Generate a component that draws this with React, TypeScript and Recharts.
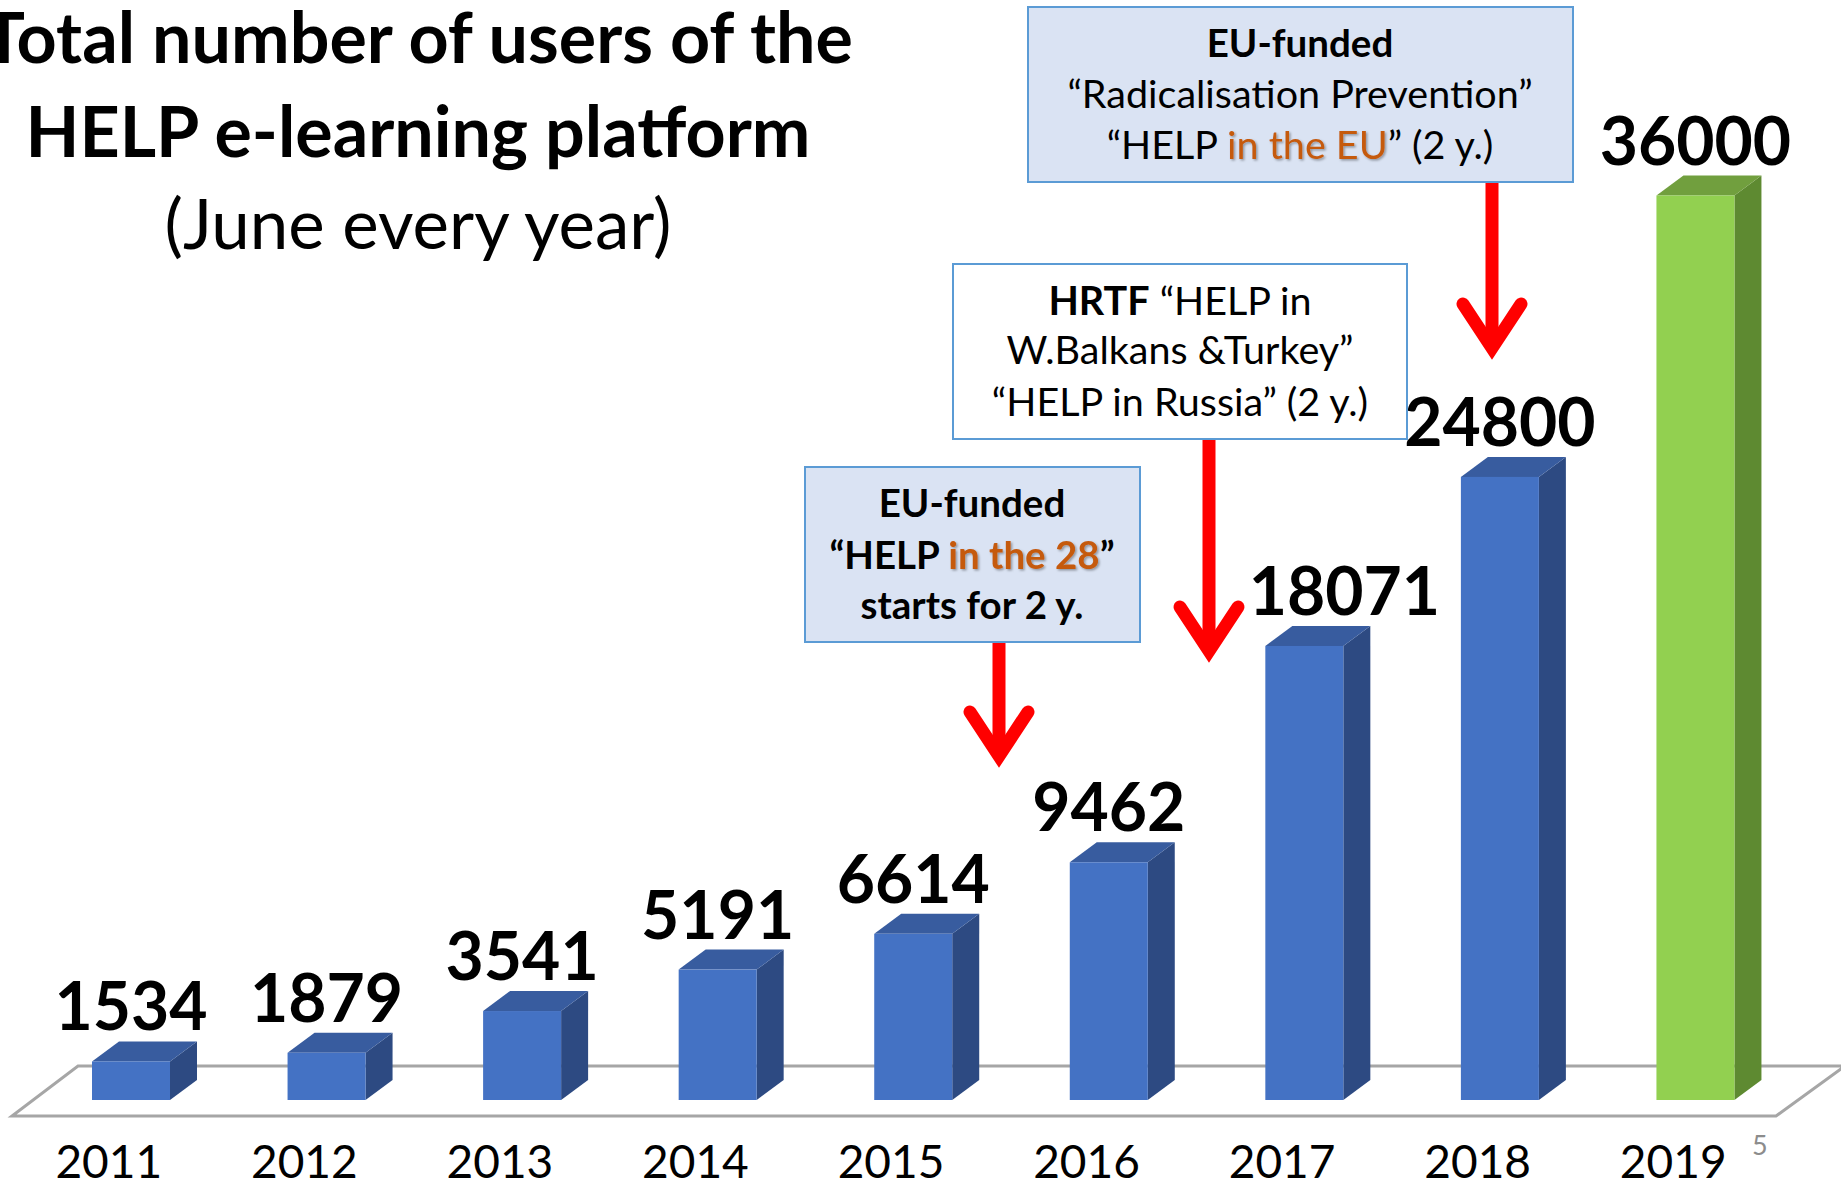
import React from 'react';
import { BarChart, Bar, XAxis, YAxis, LabelList } from 'recharts';

// ---- data ----
const years = ['2011', '2012', '2013', '2014', '2015', '2016', '2017', '2018', '2019'];
const users = [1534, 1879, 3541, 5191, 6614, 9462, 18071, 24800, 36000];
const highlightYear = '2019';
const titleLines = ['Total number of users of the', 'HELP e-learning platform', '(June every year)'];

const data = years.map((year, i) => ({ year, users: users[i] }));

// ---- styles ----
const W = 1841;
const H = 1189;
const FONT = "Lato, 'Open Sans', 'Noto Sans', sans-serif";
const BLUE = { front: '#4472C4', top: '#385C9F', side: '#2D4A82' };
const GREEN = { front: '#92D050', top: '#719F3E', side: '#5E8A31' };
const DX = 27;
const DY = 20;
const ORANGE = '#C55A11';
const BOX_FILL = '#DAE3F3';
const BOX_STROKE = '#5B9BD5';
const RED = '#FF0000';
// label nudged sideways in the original slide so the arrow does not cover it
const LABEL_SHIFT: Record<number, number> = { 6: 40 };

const Bar3D = (props: any) => {
  const { x, y, width, height, payload } = props;
  if (height == null || width == null) return null;
  const pal = payload && payload.year === highlightYear ? GREEN : BLUE;
  const top = `${x},${y} ${x + DX},${y - DY} ${x + width + DX},${y - DY} ${x + width},${y}`;
  const side = `${x + width},${y} ${x + width + DX},${y - DY} ${x + width + DX},${y + height - DY} ${x + width},${y + height}`;
  return (
    <g>
      <polygon points={side} fill={pal.side} />
      <polygon points={top} fill={pal.top} />
      <rect x={x} y={y} width={width} height={height} fill={pal.front} />
    </g>
  );
};

const ValueLabel = (p: any) => {
  const { x, y, width, value, index } = p;
  const shift = LABEL_SHIFT[index] || 0;
  return (
    <text
      x={x + width / 2 + shift}
      y={y - 31}
      textAnchor="middle"
      fontFamily={FONT}
      fontWeight={700}
      fontSize={66}
      fill="#000"
    >
      {value}
    </text>
  );
};

const YearTick = (p: any) => {
  const { x, y, payload } = p;
  return (
    <text x={x - 22} y={y + 70} textAnchor="middle" fontFamily={FONT} fontSize={46} fill="#000">
      {payload.value}
    </text>
  );
};

const Arrow = ({ x, y1, tip }: { x: number; y1: number; tip: number }) => (
  <g stroke={RED} strokeWidth={13} fill="none">
    <line x1={x} y1={y1} x2={x} y2={tip - 8} strokeLinecap="butt" />
    <polyline
      points={`${x - 29},${tip - 50} ${x},${tip - 6} ${x + 29},${tip - 50}`}
      strokeLinecap="round"
      strokeLinejoin="miter"
      strokeMiterlimit={10}
    />
  </g>
);

export default function App() {
  return (
    <div style={{ position: 'absolute', left: 0, top: 0, width: W, height: H, background: '#fff', overflow: 'hidden' }}>
      {/* floor */}
      <svg width={W} height={H} style={{ position: 'absolute', left: 0, top: 0 }}>
        <polygon
          points="78,1066 1845,1066 1776,1116 12,1116"
          fill="#fff"
          stroke="#A6A6A6"
          strokeWidth={3}
        />
      </svg>

      <div style={{ position: 'absolute', left: 0, top: 0 }}>
        <BarChart width={W} height={H} data={data} margin={{ top: 95, right: 48, bottom: 0, left: 33 }}>
          <XAxis
            dataKey="year"
            height={89}
            axisLine={false}
            tickLine={false}
            interval={0}
            tick={<YearTick />}
          />
          <YAxis hide domain={[0, 40000]} type="number" />
          <Bar dataKey="users" barSize={78} shape={<Bar3D />} isAnimationActive={false}>
            <LabelList dataKey="users" content={<ValueLabel />} />
          </Bar>
        </BarChart>
      </div>

      {/* overlay: title, notes, arrows */}
      <svg width={W} height={H} style={{ position: 'absolute', left: 0, top: 0 }} fontFamily={FONT}>
        <defs>
          <filter id="sh" x="-10%" y="-10%" width="130%" height="140%">
            <feDropShadow dx="1.5" dy="1.5" stdDeviation="1" floodColor="#000" floodOpacity="0.35" />
          </filter>
        </defs>

        <text x={418} y={63} textAnchor="middle" fontSize={70} fontWeight={700} fill="#000">{titleLines[0]}</text>
        <text x={418} y={157} textAnchor="middle" fontSize={70} fontWeight={700} fill="#000">{titleLines[1]}</text>
        <text x={418} y={249} textAnchor="middle" fontSize={69} fill="#000">{titleLines[2]}</text>

        {/* box 1 */}
        <rect x={1028} y={7} width={545} height={175} fill={BOX_FILL} stroke={BOX_STROKE} strokeWidth={2} />
        <text x={1300} y={57} textAnchor="middle" fontSize={38.5} fontWeight={700}>EU-funded</text>
        <text x={1300} y={108} textAnchor="middle" fontSize={39.5}>“Radicalisation Prevention”</text>
        <text x={1300} y={159} textAnchor="middle" fontSize={39.5}>
          “HELP <tspan fill={ORANGE} filter="url(#sh)">in the EU</tspan>” (2 y.)
        </text>

        {/* box 2 */}
        <rect x={953} y={264} width={454} height={175} fill="#fff" stroke={BOX_STROKE} strokeWidth={2} />
        <text x={1180} y={315} textAnchor="middle" fontSize={39.5}>
          <tspan fontWeight={700}>HRTF</tspan> “HELP in
        </text>
        <text x={1180} y={364} textAnchor="middle" fontSize={39.5}>W.Balkans &amp;Turkey”</text>
        <text x={1180} y={416} textAnchor="middle" fontSize={39.5}>“HELP in Russia” (2 y.)</text>

        {/* box 3 */}
        <rect x={805} y={467} width={335} height={175} fill={BOX_FILL} stroke={BOX_STROKE} strokeWidth={2} />
        <text x={972} y={517} textAnchor="middle" fontSize={38.5} fontWeight={700}>EU-funded</text>
        <text x={972} y={569} textAnchor="middle" fontSize={38.5} fontWeight={700}>
          “HELP <tspan fill={ORANGE} filter="url(#sh)">in the 28</tspan>”
        </text>
        <text x={972} y={619} textAnchor="middle" fontSize={38.5} fontWeight={700}>starts for 2 y.</text>

        <Arrow x={1492} y1={183} tip={354} />
        <Arrow x={1209} y1={440} tip={657} />
        <Arrow x={999} y1={643} tip={762} />

        <text x={1752} y={1155} fontSize={27} fill="#8C8C8C">5</text>
      </svg>
    </div>
  );
}
